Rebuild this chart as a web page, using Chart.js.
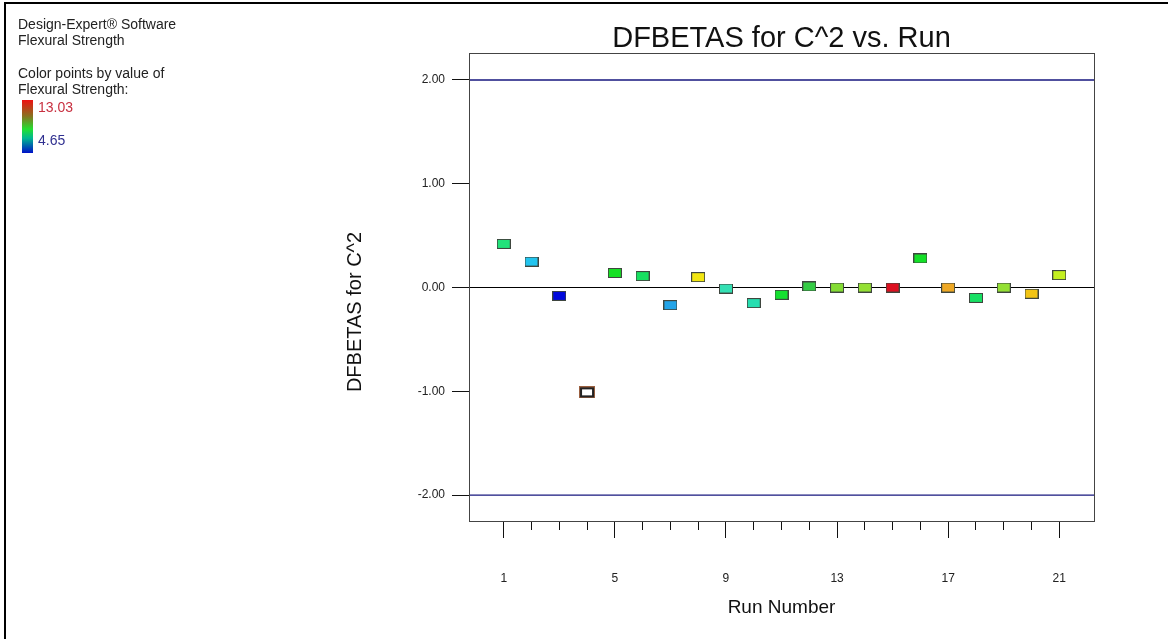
<!DOCTYPE html>
<html>
<head>
<meta charset="utf-8">
<title>DFBETAS for C^2 vs. Run</title>
<script src="https://cdn.jsdelivr.net/npm/chart.js@4/dist/chart.umd.min.js"></script>
<style>
  body { margin: 0; background: #fff; }
  #wrap { position: relative; width: 1168px; height: 639px; overflow: hidden; }
  #frame { position: absolute; left: 4px; top: 2px; right: -10px; bottom: -10px; border-left: 2px solid #000; border-top: 2px solid #000; pointer-events: none; }
  .note { position: absolute; left: 18px; font: 14px 'Liberation Sans', Arial, sans-serif; color: #222; line-height: 16px; white-space: nowrap; }
  #bar { position: absolute; left: 22px; top: 100px; width: 11px; height: 53px;
         background: linear-gradient(to bottom, #ee1111 0%, #8a7020 30%, #22e030 55%, #00b890 72%, #0010c8 100%); }
  #ytitle { position: absolute; left: 354px; top: 312px; transform: translate(-50%, -50%) rotate(-90deg);
            font: 20px 'Liberation Sans', Arial, sans-serif; color: #111; white-space: nowrap; }
  canvas { position: absolute; left: 0; top: 0; }
</style>
</head>
<body>
<div id="wrap">
  <canvas id="chart" width="1168" height="639"></canvas>
  <div id="frame"></div>
  <div class="note" style="top:16px">Design-Expert® Software<br>Flexural Strength</div>
  <div class="note" style="top:65px">Color points by value of<br>Flexural Strength:</div>
  <div id="bar"></div>
  <div class="note" style="left:38px;top:99px;color:#c83040">13.03</div>
  <div class="note" style="left:38px;top:132px;color:#303090">4.65</div>
  <div id="ytitle">DFBETAS for C^2</div>
</div>
<script>
// ── data ──
const runs = [1, 2, 3, 4, 5, 6, 7, 8, 9, 10, 11, 12, 13, 14, 15, 16, 17, 18, 19, 20, 21];
const dfbetas = [0.42, 0.25, -0.08, -1.01, 0.14, 0.11, -0.17, 0.10, -0.01, -0.15, -0.07,
                 0.01, 0.00, 0.00, 0.00, 0.28, 0.00, -0.10, 0.00, -0.06, 0.12];
const pointColors = ['#22e27a', '#22c4ee', '#0008dc', '#ffffff', '#16e024', '#18e060', '#22a4e8',
                     '#f2e612', '#34e0b4', '#26deb0', '#14e030', '#34cc44', '#84dc34', '#94e034',
                     '#dc1020', '#14e028', '#eea824', '#18e064', '#94e034', '#f2c414', '#c4f020'];
const selectedRun = 4;
const yTickValues = [-2, -1, 0, 1, 2];
const limitValues = [2, -2];
const xLabelRuns = [1, 5, 9, 13, 17, 21];
const xMin = -0.25, xMax = 22.25;

const FONT = "'Liberation Sans', Arial, sans-serif";
Chart.defaults.font.family = FONT;
Chart.defaults.color = '#222';

// small rectangular markers, Design-Expert style
function box(fill, selected) {
  const c = document.createElement('canvas');
  const w = selected ? 16 : 14, h = selected ? 12 : 10;
  c.width = w; c.height = h;
  const g = c.getContext('2d');
  if (selected) {
    g.fillStyle = '#9a6040'; g.fillRect(0, 0, w, h);
    g.fillStyle = '#222';    g.fillRect(1, 1, w - 2, h - 2);
    g.fillStyle = fill;      g.fillRect(3, 3, w - 6, h - 6);
  } else {
    g.fillStyle = '#3e463e'; g.fillRect(0, 0, w, h);
    g.fillStyle = fill;      g.fillRect(1, 1, w - 2, h - 2);
  }
  return c;
}
const markers = runs.map((r, i) => box(pointColors[i], r === selectedRun));

const frame = {
  id: 'frame',
  afterDraw(chart) {
    const { ctx, chartArea: a } = chart;
    ctx.save();
    ctx.strokeStyle = '#444'; ctx.lineWidth = 1;
    ctx.strokeRect(Math.round(a.left) + 0.5, Math.round(a.top) + 0.5, Math.round(a.right - a.left), Math.round(a.bottom - a.top));
    ctx.restore();
  }
};

// ±2 limit lines as plain line datasets
const limitSets = limitValues.map(v => ({
  type: 'line',
  label: 'limit ' + v,
  data: [{ x: xMin, y: v }, { x: xMax, y: v }],
  borderColor: '#16167e',
  borderWidth: 1.3,
  pointRadius: 0,
  fill: false,
  order: 2
}));

new Chart(document.getElementById('chart'), {
  type: 'scatter',
  data: {
    datasets: [{
      label: 'DFBETAS',
      data: runs.map((r, i) => ({ x: r, y: dfbetas[i] })),
      pointStyle: markers,
      pointRadius: 7,
      pointHoverRadius: 7,
      order: 1
    }, ...limitSets]
  },
  options: {
    responsive: false,
    animation: false,
    layout: { padding: { left: 337, top: 14, right: 74, bottom: 16 } },
    plugins: {
      legend: { display: false },
      tooltip: { enabled: false },
      title: {
        display: true, text: 'DFBETAS for C^2 vs. Run', fullSize: false,
        color: '#111', font: { size: 29, weight: 'normal', lineHeight: 1 }, padding: { top: 10, bottom: 0 }
      }
    },
    scales: {
      x: {
        type: 'linear', min: xMin, max: xMax,
        afterBuildTicks: s => { s.ticks = runs.map(v => ({ value: v })); },
        afterFit: s => { s.height = 102; },
        ticks: {
          autoSkip: false, maxRotation: 0, padding: 33, color: '#222', font: { size: 12 },
          callback: v => xLabelRuns.includes(v) ? String(v) : ''
        },
        grid: {
          drawOnChartArea: false, tickLength: 17, tickColor: '#111',
          tickBorderDash: c => (c.tick && !xLabelRuns.includes(c.tick.value)) ? [8, 40] : []
        },
        border: { display: true, color: '#333' },
        title: { display: true, text: 'Run Number', color: '#111', font: { size: 19 } }
      },
      y: {
        min: -2.25, max: 2.26,
        afterBuildTicks: s => { s.ticks = yTickValues.map(v => ({ value: v })); },
        afterFit: s => { s.width = 132; },
        ticks: { padding: 7, color: '#222', font: { size: 12 }, callback: v => v.toFixed(2) },
        grid: {
          tickLength: 17, tickColor: '#111',
          color: c => (c.tick && c.tick.value === 0) ? '#000' : 'rgba(0,0,0,0)'
        },
        border: { display: true, color: '#333' }
      }
    }
  },
  plugins: [frame]
});
</script>
</body>
</html>
